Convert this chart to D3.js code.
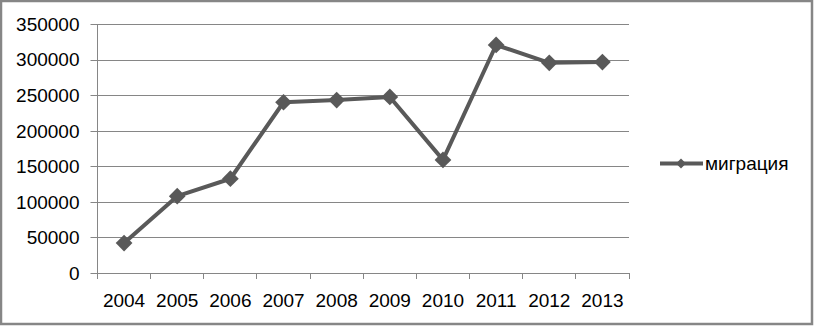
<!DOCTYPE html>
<html>
<head>
<meta charset="utf-8">
<script src="https://cdn.jsdelivr.net/npm/d3@7"></script>
<style>
  body { margin: 0; background: #fff; }
  text { font-family: "Liberation Sans", Arial, sans-serif; fill: #000; }
</style>
</head>
<body>
<div class="chart"></div>
<script>
// data
var years = ["2004", "2005", "2006", "2007", "2008", "2009", "2010", "2011", "2012", "2013"];
var migration = [42000, 108000, 132500, 240000, 243000, 247500, 159000, 320500, 295500, 296500];
var yTicks = [0, 50000, 100000, 150000, 200000, 250000, 300000, 350000];
var seriesName = "миграция";

var W = 814, H = 326;
var margin = { top: 24, right: 185, bottom: 53, left: 97.5 },
    width = 629 - margin.left,
    height = 273 - margin.top;

var svg = d3.select(".chart")
    .append("svg")
    .attr("width", W)
    .attr("height", H);

// outer frame
svg.append("rect")
    .attr("x", 1).attr("y", 1)
    .attr("width", W - 3).attr("height", H - 3)
    .attr("fill", "#fff")
    .attr("stroke", "#868686")
    .attr("stroke-width", 2.5);

var g = svg.append("g")
    .attr("transform", "translate(" + margin.left + "," + margin.top + ")");

var x = d3.scaleBand()
    .domain(years)
    .range([0, width]);

var y = d3.scaleLinear()
    .domain([0, 350000])
    .range([height, 0]);

// gridlines (snapped to the pixel grid)
g.append("g")
    .selectAll("line")
    .data(yTicks)
    .enter().append("line")
    .attr("x1", -7)
    .attr("x2", width)
    .attr("y1", function (d) { return Math.round(y(d)) + 0.5; })
    .attr("y2", function (d) { return Math.round(y(d)) + 0.5; })
    .attr("stroke", "#868686")
    .attr("stroke-width", 1);

// y axis line
g.append("line")
    .attr("x1", 0).attr("x2", 0)
    .attr("y1", 0).attr("y2", height + 0.5)
    .attr("stroke", "#868686");

// y labels
g.append("g")
    .selectAll("text")
    .data(yTicks)
    .enter().append("text")
    .attr("x", -18)
    .attr("y", function (d) { return y(d); })
    .attr("dy", "0.36em")
    .attr("text-anchor", "end")
    .style("font-size", "19px")
    .text(function (d) { return d; });

// x ticks
var xTickPos = years.map(function (d) { return x(d); }).concat([width]);
g.append("g")
    .selectAll("line")
    .data(xTickPos)
    .enter().append("line")
    .attr("x1", function (d) { return Math.round(d); })
    .attr("x2", function (d) { return Math.round(d); })
    .attr("y1", height)
    .attr("y2", height + 6)
    .attr("stroke", "#868686");

// x labels
g.append("g")
    .selectAll("text")
    .data(years)
    .enter().append("text")
    .attr("x", function (d) { return x(d) + x.bandwidth() / 2; })
    .attr("y", height + 34)
    .attr("text-anchor", "middle")
    .style("font-size", "19px")
    .text(function (d) { return d; });

var lineColor = "#595959";

var line = d3.line()
    .x(function (d, i) { return x(years[i]) + x.bandwidth() / 2; })
    .y(function (d) { return y(d); });

g.append("path")
    .datum(migration)
    .attr("d", line)
    .attr("fill", "none")
    .attr("stroke", lineColor)
    .attr("stroke-width", 4)
    .attr("stroke-linejoin", "round");

var diamond = d3.symbol().type(d3.symbolSquare).size(140);

g.append("g")
    .selectAll("path")
    .data(migration)
    .enter().append("path")
    .attr("d", diamond)
    .attr("transform", function (d, i) {
        return "translate(" + (x(years[i]) + x.bandwidth() / 2) + "," + y(d) + ") rotate(45)";
    })
    .attr("fill", lineColor);

// legend
var legend = svg.append("g")
    .attr("transform", "translate(660,163.5)");
legend.append("line")
    .attr("x1", 0).attr("x2", 43)
    .attr("stroke", lineColor)
    .attr("stroke-width", 4);
legend.append("path")
    .attr("d", d3.symbol().type(d3.symbolSquare).size(50))
    .attr("transform", "translate(21,0) rotate(45)")
    .attr("fill", lineColor);
legend.append("text")
    .attr("x", 45)
    .attr("dy", "0.36em")
    .style("font-size", "19px")
    .text(seriesName);
</script>
</body>
</html>
